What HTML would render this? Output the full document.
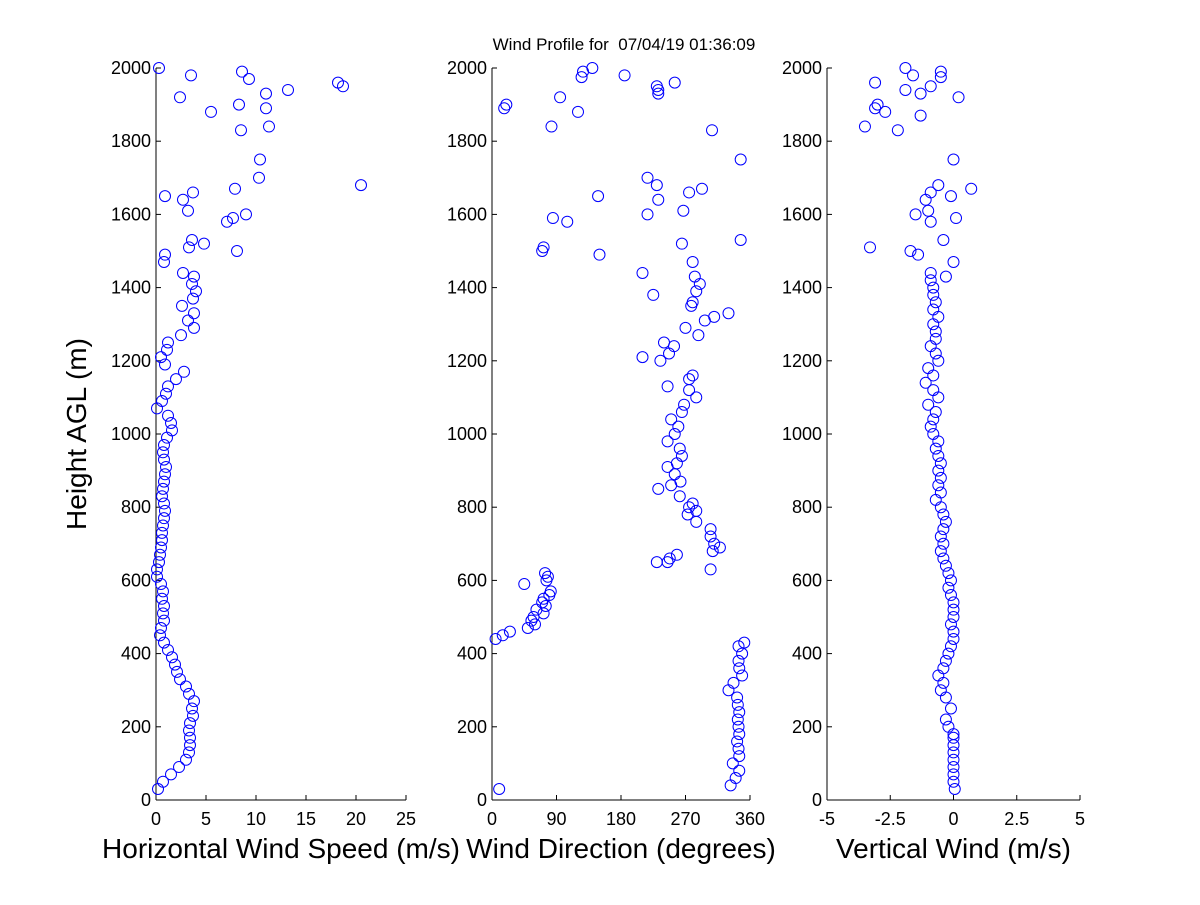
<!DOCTYPE html>
<html><head><meta charset="utf-8"><style>
body{margin:0;background:#fff;}
svg text{font-family:"Liberation Sans",sans-serif;fill:#000;}
</style></head><body>
<svg id="chart" width="1200" height="900" xmlns="http://www.w3.org/2000/svg">
<rect width="1200" height="900" fill="#fff"/>
<text x="624" y="50" font-size="17" text-anchor="middle" xml:space="preserve">Wind Profile for  07/04/19 01:36:09</text>
<text transform="translate(86,434) rotate(-90)" font-size="28" text-anchor="middle">Height AGL (m)</text>
</svg>
<script>
const spdH=[30,50,70,90,110,130,150,170,190,210,230,250,270,290,310,330,350,370,390,410,430,450,470,490,510,530,550,570,590,610,630,650,670,690,710,730,750,770,790,810,830,850,870,890,910,930,950,970,990,1010,1030,1050,1070,1090,1110,1130,1150,1170,1190,1210,1230,1250,1270,1290,1310,1330,1350,1370,1390,1410,1430,1440,1470,1490,1510,1520,1530,1500,1580,1590,1600,1610,1640,1650,1660,1670,1680,1700,1750,1830,1840,1880,1890,1900,1920,1930,1940,1950,1960,1970,1980,1990,2000];
const spdV=[0.2,0.7,1.5,2.3,3,3.3,3.4,3.4,3.3,3.4,3.7,3.6,3.8,3.3,3,2.4,2.1,1.9,1.6,1.2,0.8,0.4,0.5,0.8,0.7,0.8,0.6,0.7,0.5,0.1,0.1,0.3,0.4,0.5,0.6,0.6,0.7,0.8,0.9,0.8,0.6,0.7,0.8,0.9,1,0.8,0.7,0.8,1.1,1.6,1.5,1.2,0.1,0.6,1.0,1.2,2,2.8,0.9,0.5,1.1,1.2,2.5,3.8,3.2,3.8,2.6,3.7,4,3.6,3.8,2.7,0.8,0.9,3.3,4.8,3.6,8.1,7.1,7.7,9,3.2,2.7,0.9,3.7,7.9,20.5,10.3,10.4,8.5,11.3,5.5,11,8.3,2.4,11,13.2,18.7,18.2,9.3,3.5,8.6,0.3];
const dirH=[30,40,60,80,100,120,140,160,180,200,220,240,260,280,300,320,340,360,380,400,420,430,440,450,460,470,480,490,500,510,520,530,540,550,560,570,590,600,610,620,630,650,650,660,670,680,690,700,720,740,760,780,790,800,810,830,850,860,870,890,910,920,940,960,980,1000,1020,1040,1060,1080,1100,1120,1130,1150,1160,1200,1210,1220,1240,1250,1270,1290,1310,1320,1330,1350,1360,1380,1390,1410,1430,1440,1470,1490,1500,1510,1520,1530,1580,1590,1600,1610,1640,1650,1660,1670,1680,1700,1750,1830,1840,1880,1890,1900,1920,1930,1940,1950,1960,1975,1980,1990,2000];
const dirV=[10,333,340,345,336,345,344,342,345,344,343,345,343,342,330,337,349,345,344,349,344,352,5,15,25,50,60,55,58,72,62,75,70,72,80,82,45,76,78,74,305,230,245,248,258,308,318,310,305,305,285,273,285,275,280,262,232,250,263,255,245,258,265,262,245,255,260,250,265,268,285,275,245,275,280,235,210,247,254,240,288,270,297,310,330,278,280,225,285,290,283,210,280,150,70,72,265,347,105,85,217,267,232,148,275,293,230,217,347,307,83,120,17,20,95,232,232,230,255,125,185,127,140];
const vwH=[30,50,70,90,110,130,150,170,180,200,220,250,280,300,320,340,360,380,400,420,440,460,480,500,520,540,560,580,600,620,640,660,680,700,720,740,760,780,800,820,840,860,880,900,920,940,960,980,1000,1020,1040,1060,1080,1100,1120,1140,1160,1180,1200,1220,1240,1260,1280,1300,1320,1340,1360,1380,1400,1420,1440,1430,1470,1490,1500,1510,1530,1580,1600,1610,1640,1650,1660,1670,1680,1750,1590,1830,1840,1870,1880,1890,1900,1920,1930,1940,1950,1960,1975,1980,1990,2000];
const vwV=[0.05,0,0,0,0,0,0,0,0,-0.2,-0.3,-0.1,-0.3,-0.5,-0.4,-0.6,-0.4,-0.3,-0.2,-0.1,0,0,-0.1,0,0,0,-0.1,-0.2,-0.1,-0.2,-0.3,-0.4,-0.5,-0.4,-0.5,-0.4,-0.3,-0.4,-0.5,-0.7,-0.5,-0.6,-0.5,-0.6,-0.5,-0.6,-0.7,-0.6,-0.8,-0.9,-0.8,-0.7,-1,-0.6,-0.8,-1.1,-0.8,-1,-0.6,-0.7,-0.9,-0.7,-0.7,-0.8,-0.6,-0.8,-0.7,-0.8,-0.8,-0.9,-0.9,-0.3,0,-1.4,-1.7,-3.3,-0.4,-0.9,-1.5,-1,-1.1,-0.1,-0.9,0.7,-0.6,0,0.1,-2.2,-3.5,-1.3,-2.7,-3.1,-3,0.2,-1.3,-1.9,-0.9,-3.1,-0.5,-1.6,-0.5,-1.9];
const yTicks=[0,200,400,600,800,1000,1200,1400,1600,1800,2000];
const spdTicks=[0,5,10,15,20,25], spdLabels=["0","5","10","15","20","25"];
const dirTicks=[0,90,180,270,360], dirLabels=["0","90","180","270","360"];
const vwTicks=[-5,-2.5,0,2.5,5], vwLabels=["-5","-2.5","0","2.5","5"];
const NS='http://www.w3.org/2000/svg', svg=document.getElementById('chart');
const y0=800,y1=68; const yS=h=>y0-(h/2000)*(y0-y1);
function el(t,a){const e=document.createElementNS(NS,t);for(const k in a)e.setAttribute(k,a[k]);svg.appendChild(e);return e;}
function panel(name,x0,x1,min,max,ticks,labels,title,H,V){
 const xS=v=>x0+(v-min)/(max-min)*(x1-x0);
 let a=el('line',{x1:x0,y1:y0,x2:x1,y2:y0,stroke:'#000'});
 
 a=el('line',{x1:x0,y1:y0,x2:x0,y2:y1,stroke:'#000'});
 
 ticks.forEach((t,i)=>{const x=xS(t);el('line',{x1:x,y1:y0,x2:x,y2:y0-5,stroke:'#000'});
  const tx=el('text',{x:x,y:y0+25,'font-size':18,'text-anchor':'middle'});tx.textContent=labels[i];
  });
 yTicks.forEach(t=>{const y=yS(t);el('line',{x1:x0,y1:y,x2:x0+5,y2:y,stroke:'#000'});
  const tx=el('text',{x:x0-5,y:y+6,'font-size':18,'text-anchor':'end'});tx.textContent=t;
  });
 const tt=el('text',{x:(x0+x1)/2,y:858,'font-size':28,'text-anchor':'middle'});tt.textContent=title;
 
 H.forEach((h,i)=>{const c=el('circle',{cx:xS(V[i]),cy:yS(h),r:5.5,fill:'none',stroke:'#0000ff','stroke-width':1});
  });
}
panel('speed',156,406,0,25,spdTicks,spdLabels,'Horizontal Wind Speed (m/s)',spdH,spdV);
panel('direction',492,750,0,360,dirTicks,dirLabels,'Wind Direction (degrees)',dirH,dirV);
panel('vertical',827,1080,-5,5,vwTicks,vwLabels,'Vertical Wind (m/s)',vwH,vwV);
</script>
</body></html>
